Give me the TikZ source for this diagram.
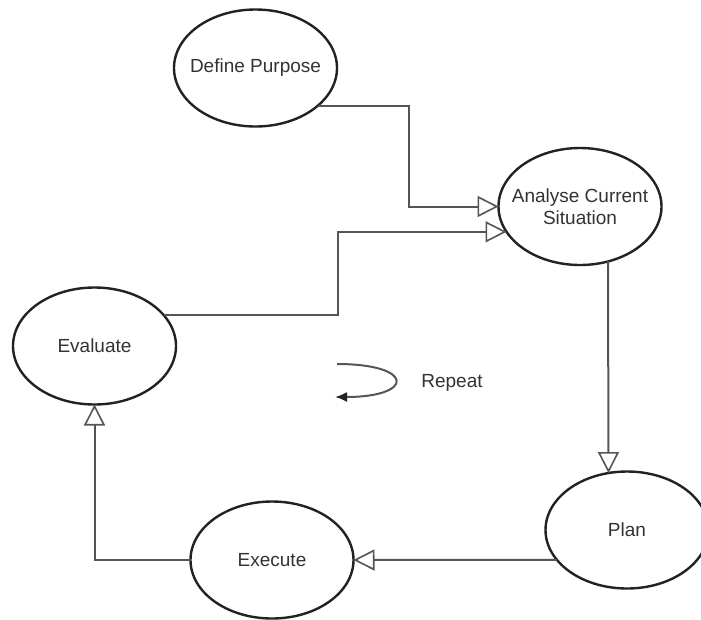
\documentclass[tikz,border=0pt]{standalone}
\usepackage{fontspec}
\setmainfont{Liberation Sans}
\usetikzlibrary{shapes.geometric,arrows.meta}
\definecolor{rim}{HTML}{222222}
\definecolor{wire}{HTML}{555555}
\definecolor{ink}{HTML}{333333}
\begin{document}
\begin{tikzpicture}[x=1pt,y=-1pt,
  stage/.style={ellipse, draw=rim, line width=2.4pt, minimum width=163pt,
    minimum height=117pt, inner sep=0pt, outer sep=0pt},
  tag/.style={text=ink, font=\fontsize{19}{21.5}\selectfont, align=center, inner sep=0pt},
  flow/.style={draw=wire, line width=2pt,
    -{Triangle[length=21pt,width=21pt,fill=white,line width=1.6pt]}},
  loopline/.style={draw=wire, line width=2pt, -{Latex[length=12pt,width=10pt,color=rim]}}
]
\useasboundingbox (0,0) rectangle (701,619);
\fill[white] (0,0) rectangle (701,619);

% the five stages of the cycle
\node[stage, label={[tag]center:Define Purpose}] (dp) at (255.5,68) {};
\node[stage, label={[tag]center:Analyse Current\\Situation}] (ac) at (580,206.5) {};
\node[stage, label={[tag]center:Evaluate}] (ev) at (94.5,346) {};
\node[stage, label={[tag]center:Plan}] (pl) at (627,530) {};
\node[stage, label={[tag]center:Execute}] (ex) at (272,560) {};

% elbow columns of the two incoming connectors
\coordinate (k1) at (409,0);
\coordinate (k2) at (338,0);

\draw[flow] (dp.-31) -| (k1 |- ac.west) -- (ac.west);
\draw[flow] (ev.24) -| (k2 |- ac.199) -- (ac.199);
\draw[flow] (ac.-63) -- (pl.108.6);
\draw[flow] (pl.203.3) -- (ex.east);
\draw[flow] (ex.west) -| (ev.south);

% repeat marker
\coordinate (r1) at (337,364);
\coordinate (r2) at (335,397);
\draw[loopline] (r1) .. controls (415,364) and (415,397) .. (r2);
\node[tag] (rep) at (452,383) {Repeat};
\end{tikzpicture}
\end{document}
